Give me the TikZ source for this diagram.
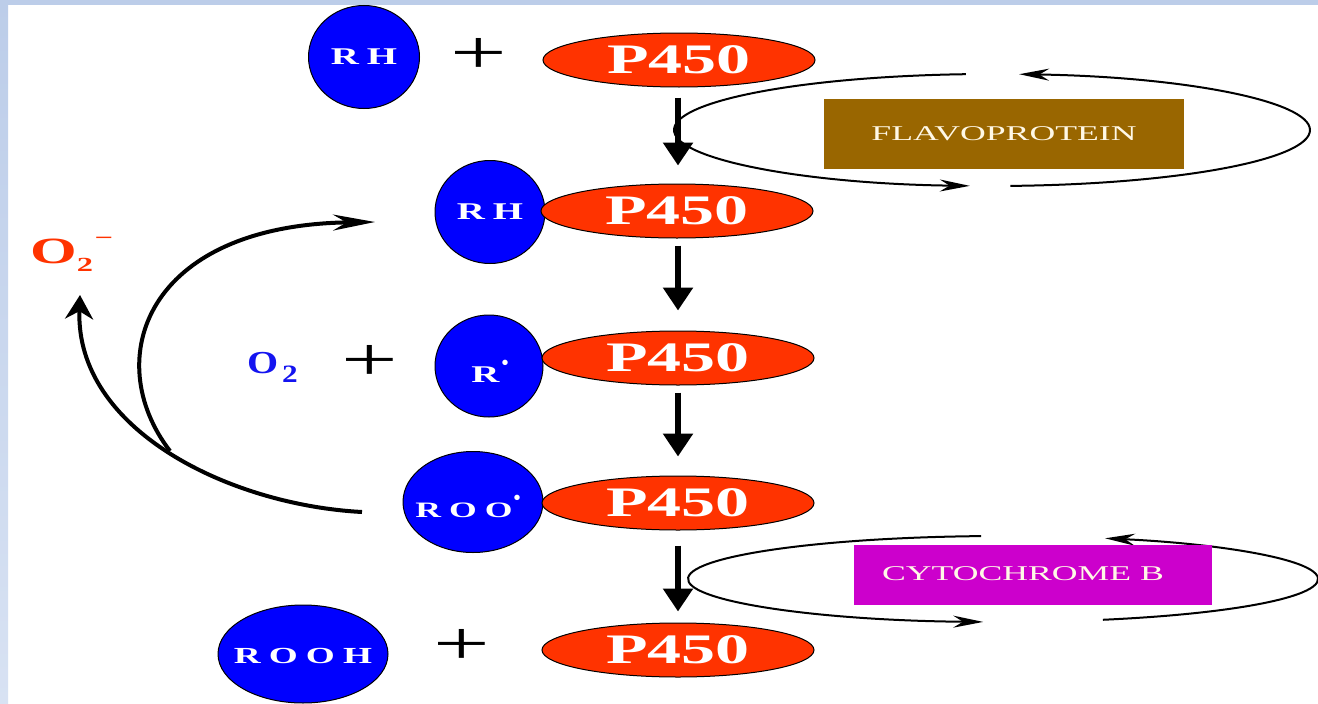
\documentclass[tikz,border=0pt]{standalone}
\usepackage{fontspec}
\usepackage{graphicx}
\setmainfont{Liberation Serif}
\usetikzlibrary{shapes.geometric,arrows.meta,calc}
\definecolor{bandc}{HTML}{BCCDE9}
\definecolor{bandd}{HTML}{D8E2F3}
\definecolor{blobc}{HTML}{0000FF}
\definecolor{predc}{HTML}{FF3300}
\definecolor{flavoc}{HTML}{996600}
\definecolor{cytoc}{HTML}{CC00CC}
\definecolor{creamc}{HTML}{FFF8E6}
\definecolor{otwo}{HTML}{1414F0}
\newcommand{\sx}[1]{\scalebox{1.62}[1]{#1}}
\newcommand{\bx}[1]{\scalebox{1.7}[1]{#1}}
\newcommand{\gp}{\kern5pt}
\newcommand{\rad}{\raisebox{13pt}{\fontsize{20}{20}\selectfont •}}
\begin{document}
\begin{tikzpicture}[x=1pt,y=-1pt,
  blobnode/.style={ellipse, draw=black, line width=1pt, fill=blobc, inner sep=0pt},
  pnode/.style={ellipse, draw=black, line width=1pt, fill=predc, minimum width=272pt,
    minimum height=54pt, inner sep=0pt, text=white,
    font=\fontsize{42}{42}\selectfont\bfseries},
  blbl/.style={text=white, inner sep=0pt},
  plussign/.style={font=\fontsize{62}{62}\selectfont, inner sep=0pt},
  vert/.style={line width=6pt, -{Triangle[length=23pt,width=29pt]}},
  loopline/.style={line width=2pt, -{Stealth[length=30pt,width=12pt]}},
  lcurve/.style={line width=4pt},
  boxnode/.style={inner sep=0pt, font=\fontsize{21}{21}\selectfont}
]
\clip (0,0) rectangle (1318,704);
\fill[white] (0,0) rectangle (1318,704);
% background bands
\shade[top color=bandc, bottom color=bandd] (0,0) rectangle (8,704);
\fill[bandc] (0,0) rectangle (1318,5);

% loops (drawn first)
\coordinate (fc) at (992,130);
\coordinate (cc) at (1003,579);
\draw[loopline] (fc) ++(-273.3:318 and 56)
  arc[start angle=-273.3, end angle=-445.1, x radius=318, y radius=56];
\draw[loopline] (fc) ++(-94.7:318 and 56)
  arc[start angle=-94.7, end angle=-266, x radius=318, y radius=56];
\draw[loopline] (cc) ++(-288.5:315 and 43)
  arc[start angle=-288.5, end angle=-431.1, x radius=315, y radius=43];
\draw[loopline] (cc) ++(-94:315 and 43)
  arc[start angle=-94, end angle=-266.4, x radius=315, y radius=43];

% boxes
\node[boxnode, fill=flavoc, minimum width=360pt, minimum height=70pt,
  text=creamc] (flavo) at (1004,134) {\bx{FLAVOPROTEIN}};
\node[boxnode, fill=cytoc, minimum width=358pt, minimum height=60pt] (cyto) at (1033,575) {};
\node[boxnode, text=creamc] (cytotxt) at (1023,574) {\bx{CYTOCHROME B}};

% blue blobs
\node[blobnode, minimum width=111pt, minimum height=103pt,
  label={[blbl, font=\fontsize{24}{24}\selectfont\bfseries]center:\sx{R\gp H}}] (b1) at (364,57) {};
\node[blobnode, minimum width=110pt, minimum height=103pt,
  label={[blbl, font=\fontsize{24}{24}\selectfont\bfseries]center:\sx{R\gp H}}] (b2) at (490,212) {};
\node[blobnode, minimum width=108pt, minimum height=102pt,
  label={[blbl, font=\fontsize{24}{24}\selectfont\bfseries, xshift=1pt, yshift=-5pt]center:\sx{R}\kern2pt\rad}] (b3) at (489,366) {};
\node[blobnode, minimum width=140pt, minimum height=101pt,
  label={[blbl, font=\fontsize{22}{22}\selectfont\bfseries, xshift=-5pt, yshift=-4pt]center:\sx{R\gp O\gp O}\kern1pt\rad}] (b4) at (473,502) {};
\node[blobnode, minimum width=170pt, minimum height=98pt,
  label={[blbl, font=\fontsize{23}{23}\selectfont\bfseries, yshift=-2pt]center:\sx{R\gp O\gp O\gp H}}] (b5) at (303,654) {};

% P450 ellipses
\node[pnode] (p1) at (679,60) {\sx{P450}};
\node[pnode] (p2) at (677,211) {\sx{P450}};
\node[pnode] (p3) at (678,358) {\sx{P450}};
\node[pnode] (p4) at (678,503) {\sx{P450}};
\node[pnode] (p5) at (678,650) {\sx{P450}};

% plus signs
\node[plussign] (plus1) at (479,56) {\sx{+}};
\node[plussign] (plus2) at (370,363) {\sx{+}};
\node[plussign] (plus3) at (462,647) {\sx{+}};

% vertical arrows
\draw[vert] ([yshift=-10pt]p1.south -| p3.south) -- ([yshift=18pt]p2.north -| p3.north);
\draw[vert] ([yshift=-7pt]p2.south -| p3.south) -- ([yshift=20pt]p3.north);
\draw[vert] ([yshift=-7pt]p3.south) -- ([yshift=19pt]p4.north);
\draw[vert] ([yshift=-15pt]p4.south) -- ([yshift=11pt]p5.north);

% O2 labels
\node[inner sep=0pt, anchor=base west, text=otwo,
  font=\fontsize{32}{32}\selectfont\bfseries] (o2) at (247,373)
  {\scalebox{1.25}[1]{O\kern3pt\raisebox{-9pt}{\fontsize{25}{25}\selectfont 2}}};
\node[inner sep=0pt, anchor=base west, text=predc,
  font=\fontsize{37}{37}\selectfont\bfseries] (o2minus) at (30,263)
  {\sx{O\raisebox{-8pt}{\fontsize{20}{20}\selectfont 2}\kern1pt\raisebox{19pt}{\fontsize{20}{20}\selectfont −}}};

% left curved arrows
\coordinate (rooend) at (362,512);
\coordinate (split) at (170,451);
\coordinate (o2tip) at (80,295);
\coordinate (rhtip) at (375,222);
\draw[lcurve, -{Stealth[length=24pt,width=28pt]}] (rooend)
  .. controls (230,505) and (75,430) .. (o2tip);
\draw[lcurve, -{Stealth[length=42pt,width=16pt]}] (split)
  .. controls (100,360) and (145,225) .. (rhtip);
\end{tikzpicture}
\end{document}
